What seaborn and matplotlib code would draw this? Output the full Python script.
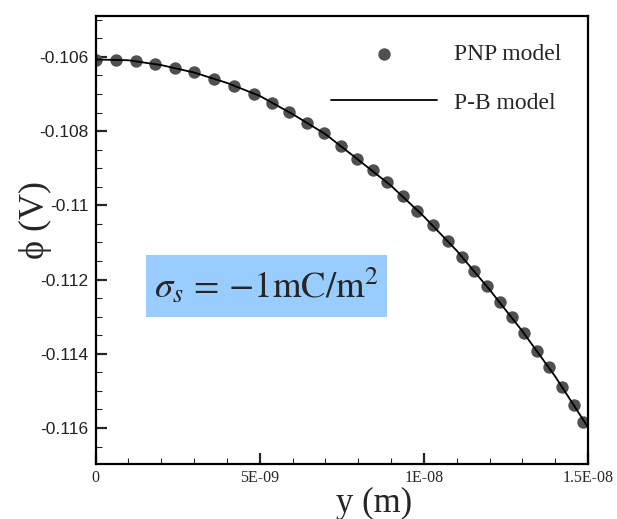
import numpy as np
import pandas as pd
import matplotlib
matplotlib.use("Agg")
import matplotlib.pyplot as plt
import seaborn as sns
from matplotlib.ticker import MultipleLocator, FixedLocator, FixedFormatter
from matplotlib.patches import Rectangle

# PNP model points
pnp_y_pos = [0.0, 6.24e-10, 1.218e-9, 1.822e-9, 2.412e-9, 3.009e-9, 3.609e-9, 4.219e-9,
             4.828e-9, 5.367e-9, 5.903e-9, 6.433e-9, 6.960e-9, 7.469e-9, 7.975e-9, 8.462e-9,
             8.879e-9, 9.357e-9, 9.802e-9, 1.0271e-8, 1.0728e-8, 1.1155e-8, 1.1529e-8, 1.1925e-8,
             1.2321e-8, 1.2677e-8, 1.3052e-8, 1.3439e-8, 1.3813e-8, 1.4200e-8, 1.4575e-8, 1.4858e-8]
pnp_phi = [-0.10607, -0.10608, -0.10611, -0.10619, -0.10630, -0.10642, -0.10659, -0.10678,
           -0.10701, -0.10725, -0.10749, -0.10777, -0.10806, -0.10839, -0.10875, -0.10905,
           -0.10938, -0.10975, -0.11014, -0.11053, -0.11095, -0.11140, -0.11177, -0.11217,
           -0.11260, -0.11302, -0.11345, -0.11392, -0.11436, -0.11489, -0.11538, -0.11583]

# P-B model curve
pb_y_pos = [0.0, 1.0e-9, 2.0e-9, 3.0e-9, 4.0e-9, 5.0e-9, 6.0e-9, 7.0e-9, 8.0e-9,
            9.0e-9, 1.0e-8, 1.1e-8, 1.2e-8, 1.3e-8, 1.4e-8, 1.5e-8]
pb_phi = [-0.10607, -0.10609, -0.10622, -0.10642, -0.10670, -0.10705, -0.10754, -0.10808,
          -0.10877, -0.10947, -0.11030, -0.11122, -0.11227, -0.11339, -0.11461, -0.11598]

x_ticks = [0.0, 5e-9, 1e-8, 1.5e-8]
x_tick_labels = ["0", "5E-09", "1E-08", "1.5E-08"]
y_ticks = [-0.116, -0.114, -0.112, -0.11, -0.108, -0.106]
y_tick_labels = ["-0.116", "-0.114", "-0.112", "-0.11", "-0.108", "-0.106"]

df_pnp = pd.DataFrame({"y": pnp_y_pos, "phi": pnp_phi})
df_pb = pd.DataFrame({"y": pb_y_pos, "phi": pb_phi})

sns.set_style("white")
plt.rcParams["axes.unicode_minus"] = False
plt.rcParams["mathtext.fontset"] = "stix"
serif = ["Liberation Serif", "DejaVu Serif"]

fig = plt.figure(figsize=(6.17, 5.19), dpi=100)
ax = fig.add_axes([0.1548, 0.106, 0.7982, 0.863])

sns.scatterplot(data=df_pnp, x="y", y="phi", ax=ax, s=80, color="#505050",
                linewidth=0, label="PNP model", zorder=2)
sns.lineplot(data=df_pb, x="y", y="phi", ax=ax, color="black", linewidth=1.3,
             label="P-B model", zorder=3)

ax.set_xlim(0, 1.5e-8)
ax.set_ylim(-0.11697, -0.1049)

ax.xaxis.set_major_locator(FixedLocator(x_ticks))
ax.xaxis.set_major_formatter(FixedFormatter(x_tick_labels))
ax.xaxis.set_minor_locator(MultipleLocator(1e-9))
ax.yaxis.set_major_locator(FixedLocator(y_ticks))
ax.yaxis.set_major_formatter(FixedFormatter(y_tick_labels))
ax.yaxis.set_minor_locator(MultipleLocator(0.0005))

ax.tick_params(which="both", direction="in", top=False, right=False, bottom=True, left=True)
ax.tick_params(which="major", length=8, width=1.6)
ax.tick_params(which="minor", length=4.5, width=0.8)
ax.tick_params(axis="y", which="major", labelsize=12.5, pad=5, labelcolor="#222222")
ax.tick_params(axis="x", which="major", labelsize=11.5, pad=4)
for lab in ax.get_yticklabels():
    lab.set_family(["Liberation Sans", "DejaVu Sans"])
for lab in ax.get_xticklabels():
    lab.set_family(serif)

for side in ["left", "bottom", "top", "right"]:
    ax.spines[side].set_visible(True)
    ax.spines[side].set_color("black")
    ax.spines[side].set_linewidth(1.6)

ax.set_xlabel("y (m)", fontsize=25, family=serif)
ax.xaxis.set_label_coords(0.565, -0.052)
ax.set_ylabel("ϕ (V)", fontsize=26, family=serif)
ax.yaxis.set_label_coords(-0.088, 0.545)

ax.add_patch(Rectangle((0.1025, 0.328), 0.489, 0.138, transform=ax.transAxes,
                       facecolor="#99ccff", edgecolor="none", zorder=1))
ax.text(0.346, 0.397, r"$\sigma_s\,=\,{-}1\mathrm{mC/m}^2$", transform=ax.transAxes,
        ha="center", va="center", fontsize=26.5, zorder=4)

leg = ax.legend(loc="upper left", bbox_to_anchor=(0.478, 0.939), frameon=False,
                prop={"family": serif, "size": 17}, handlelength=4.5,
                handletextpad=0.7, labelspacing=1.15, borderpad=0, borderaxespad=0)

fig.savefig("out.png", dpi=100)
